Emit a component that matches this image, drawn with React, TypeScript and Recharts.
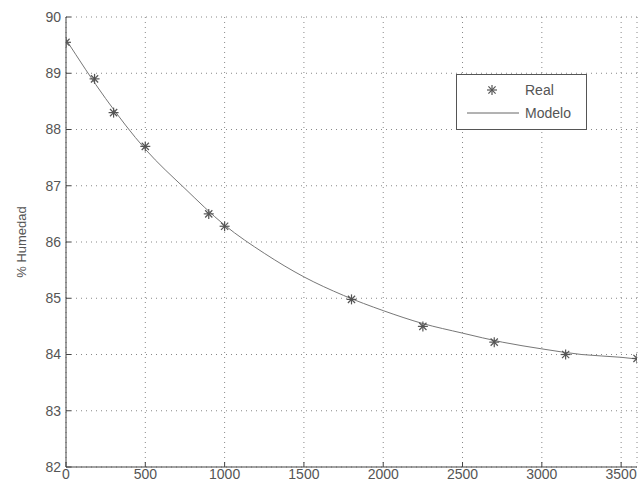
import React from "react"
import {
  ComposedChart,
  Line,
  Scatter,
  XAxis,
  YAxis,
  CartesianGrid,
  Customized,
} from "recharts"

// measured samples ("Real")
const realTime = [0, 180, 300, 500, 900, 1000, 1800, 2250, 2700, 3150, 3600]
const realHum = [89.55, 88.9, 88.3, 87.7, 86.5, 86.28, 84.98, 84.5, 84.22, 84.0, 83.93]

// fitted curve ("Modelo")
const modelTime = [0, 250, 500, 750, 1000, 1250, 1500, 1750, 2000, 2250, 2500, 2750, 3000, 3250, 3500, 3600]
const modelHum = [89.6, 88.55, 87.65, 86.95, 86.3, 85.8, 85.38, 85.05, 84.78, 84.55, 84.38, 84.22, 84.1, 84.0, 83.95, 83.92]

const xTicks = [0, 500, 1000, 1500, 2000, 2500, 3000, 3500]
const yTicks = [82, 83, 84, 85, 86, 87, 88, 89, 90]

const realData = realTime.map((t, i) => ({ t, h: realHum[i] }))
const modelData = modelTime.map((t, i) => ({ t, h: modelHum[i] }))

const textColor = "#555"
const font = "'Liberation Sans', Arial, sans-serif"

function Star(props: any) {
  const { cx, cy } = props
  const r = 5
  const d = r * 0.72
  return (
    <g stroke="#555" strokeWidth={1.2}>
      <line x1={cx - r} y1={cy} x2={cx + r} y2={cy} />
      <line x1={cx} y1={cy - r} x2={cx} y2={cy + r} />
      <line x1={cx - d} y1={cy - d} x2={cx + d} y2={cy + d} />
      <line x1={cx - d} y1={cy + d} x2={cx + d} y2={cy - d} />
    </g>
  )
}

function LegendBox() {
  return (
    <div
      style={{
        position: "absolute",
        left: 456,
        top: 74,
        width: 131,
        height: 56,
        border: "1px solid #555",
        background: "#fff",
        boxSizing: "border-box",
      }}
    >
      <svg width={129} height={54} style={{ position: "absolute", left: 0, top: 0 }}>
        <Star cx={35} cy={15} />
        <line x1={10} y1={38} x2={62} y2={38} stroke="#666" strokeWidth={1} />
        <text x={68} y={20} fill={textColor} fontSize={14} fontFamily={font}>Real</text>
        <text x={68} y={43} fill={textColor} fontSize={14} fontFamily={font}>Modelo</text>
      </svg>
    </div>
  )
}

const tickStyle = { fill: textColor, fontSize: 14, fontFamily: font }

export default function App() {
  return (
    <div style={{ position: "absolute", left: 0, top: 0, width: 640, height: 489, background: "#fff" }}>
      <ComposedChart width={640} height={489} margin={{ top: 17, right: 3, bottom: 0, left: 26 }}>
        <CartesianGrid stroke="#888" strokeDasharray="1 4" />
        <XAxis
          dataKey="t"
          type="number"
          domain={[0, 3600]}
          ticks={xTicks}
          allowDataOverflow
          height={22}
          stroke="#444"
          tickSize={-5}
          tickMargin={7}
          tick={tickStyle}
        />
        <XAxis
          xAxisId="top"
          orientation="top"
          type="number"
          domain={[0, 3600]}
          ticks={xTicks}
          height={0}
          stroke="#444"
          tickSize={-5}
          tick={false}
        />
        <YAxis
          type="number"
          domain={[82, 90]}
          ticks={yTicks}
          width={40}
          stroke="#444"
          tickSize={-5}
          tickMargin={10}
          tick={tickStyle}
        />
        <YAxis
          yAxisId="right"
          orientation="right"
          type="number"
          domain={[82, 90]}
          ticks={yTicks}
          width={0}
          stroke="#444"
          tickSize={-5}
          tick={false}
        />
        <Line
          data={modelData}
          dataKey="h"
          type="monotone"
          stroke="#777"
          strokeWidth={1}
          dot={false}
          isAnimationActive={false}
          name="Modelo"
        />
        <Scatter
          data={realData}
          dataKey="h"
          shape={<Star />}
          isAnimationActive={false}
          name="Real"
        />
        <Customized
          component={() => (
            <text
              x={26}
              y={242}
              transform="rotate(-90 26 242)"
              textAnchor="middle"
              fill={textColor}
              fontSize={13}
              fontFamily={font}
            >
              % Humedad
            </text>
          )}
        />
      </ComposedChart>
      <LegendBox />
    </div>
  )
}
